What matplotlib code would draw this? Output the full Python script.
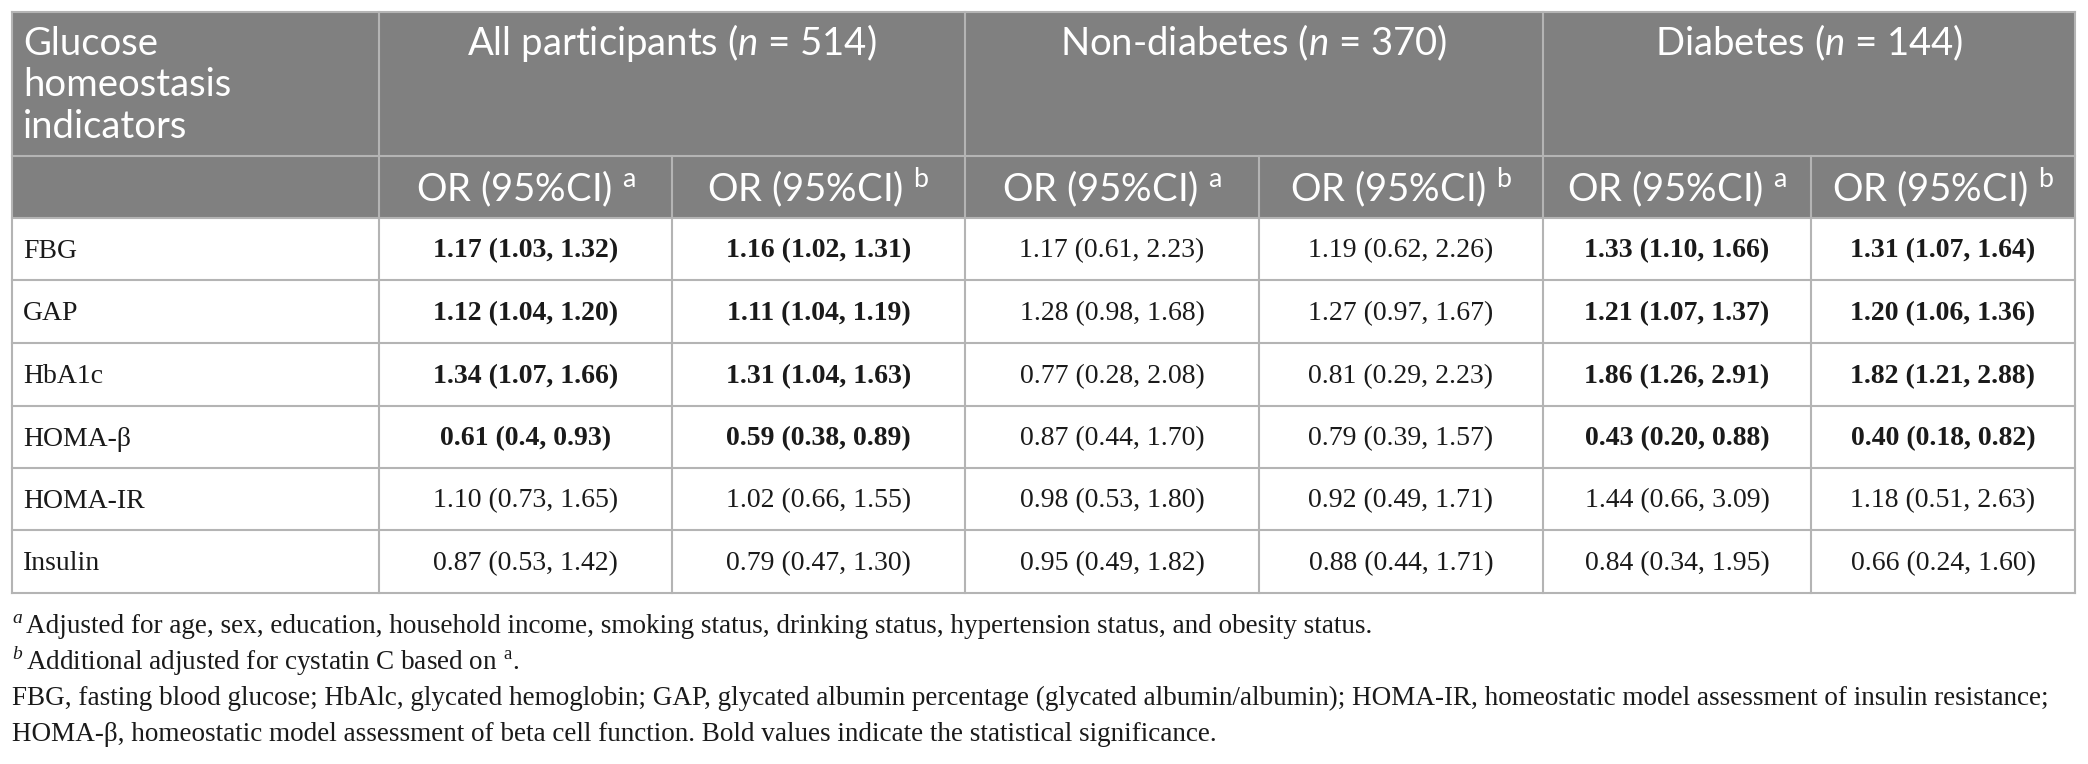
import matplotlib
matplotlib.use("Agg")
import matplotlib.pyplot as plt
from matplotlib.patches import Rectangle

# table content
indicators = ["FBG", "GAP", "HbA1c", "HOMA-β", "HOMA-IR", "Insulin"]
groups = ["All participants", "Non-diabetes", "Diabetes"]
group_n = [514, 370, 144]
sub_marks = ["a", "b", "a", "b", "a", "b"]

all_a = ["1.17 (1.03, 1.32)", "1.12 (1.04, 1.20)", "1.34 (1.07, 1.66)",
         "0.61 (0.4, 0.93)", "1.10 (0.73, 1.65)", "0.87 (0.53, 1.42)"]
all_b = ["1.16 (1.02, 1.31)", "1.11 (1.04, 1.19)", "1.31 (1.04, 1.63)",
         "0.59 (0.38, 0.89)", "1.02 (0.66, 1.55)", "0.79 (0.47, 1.30)"]
nondm_a = ["1.17 (0.61, 2.23)", "1.28 (0.98, 1.68)", "0.77 (0.28, 2.08)",
           "0.87 (0.44, 1.70)", "0.98 (0.53, 1.80)", "0.95 (0.49, 1.82)"]
nondm_b = ["1.19 (0.62, 2.26)", "1.27 (0.97, 1.67)", "0.81 (0.29, 2.23)",
           "0.79 (0.39, 1.57)", "0.92 (0.49, 1.71)", "0.88 (0.44, 1.71)"]
dm_a = ["1.33 (1.10, 1.66)", "1.21 (1.07, 1.37)", "1.86 (1.26, 2.91)",
        "0.43 (0.20, 0.88)", "1.44 (0.66, 3.09)", "0.84 (0.34, 1.95)"]
dm_b = ["1.31 (1.07, 1.64)", "1.20 (1.06, 1.36)", "1.82 (1.21, 2.88)",
        "0.40 (0.18, 0.82)", "1.18 (0.51, 2.63)", "0.66 (0.24, 1.60)"]

# significant (bold) cells
sig_all = [True, True, True, True, False, False]
sig_nondm = [False, False, False, False, False, False]
sig_dm = [True, True, True, True, False, False]

columns = [all_a, all_b, nondm_a, nondm_b, dm_a, dm_b]
col_sig = [sig_all, sig_all, sig_nondm, sig_nondm, sig_dm, sig_dm]

footnotes = [
    ("a", "Adjusted for age, sex, education, household income, smoking status, drinking status, hypertension status, and obesity status."),
    ("b", "Additional adjusted for cystatin C based on $^{\\mathregular{a}}$."),
    ("", "FBG, fasting blood glucose; HbAlc, glycated hemoglobin; GAP, glycated albumin percentage (glycated albumin/albumin); HOMA-IR, homeostatic model assessment of insulin resistance;"),
    ("", "HOMA-β, homeostatic model assessment of beta cell function. Bold values indicate the statistical significance."),
]

# layout in pixels
W, H = 2088, 764
col_edges = [12, 379, 672, 965, 1259, 1543, 1811, 2075]
row_edges = [12, 156, 218, 280, 343, 406, 468, 530, 593]
head_fill = "#808080"
grid_col = "#b4b4b4"
lw = 1.5

plt.rcParams["mathtext.fontset"] = "custom"
plt.rcParams["mathtext.rm"] = "Lato"
plt.rcParams["mathtext.it"] = "Lato:italic"

fig = plt.figure(figsize=(W / 100, H / 100), dpi=100)
ax = fig.add_axes([0, 0, 1, 1])
ax.set_xlim(0, W)
ax.set_ylim(H, 0)
ax.axis("off")

# header background
ax.add_patch(Rectangle((col_edges[0], row_edges[0]), col_edges[-1] - col_edges[0],
                       row_edges[2] - row_edges[0], facecolor=head_fill, edgecolor="none"))

# horizontal rules
for y in row_edges:
    ax.plot([col_edges[0], col_edges[-1]], [y, y], color=grid_col, lw=lw, solid_capstyle="projecting")
# vertical rules
for i, x in enumerate(col_edges):
    top = row_edges[0] if i in (0, 1, 3, 5, 7) else row_edges[1]
    ax.plot([x, x], [top, row_edges[-1]], color=grid_col, lw=lw, solid_capstyle="projecting")

head_font = dict(family="Lato", fontsize=27.5, color="white")
# first header cell
for k, line in enumerate(["Glucose", "homeostasis", "indicators"]):
    ax.text(23, 55 + k * 41.5, line, ha="left", va="baseline", **head_font)

for g in range(3):
    xc = (col_edges[1 + 2 * g] + col_edges[3 + 2 * g]) / 2
    ax.text(xc, 55, f"{groups[g]} ($\\it{{n}}$ = {group_n[g]})", ha="center", va="baseline", **head_font)

for j in range(6):
    xc = (col_edges[1 + j] + col_edges[2 + j]) / 2
    ax.text(xc, 201, f"OR (95%CI) $^{{\\mathregular{{{sub_marks[j]}}}}}$", ha="center", va="baseline", **head_font)

# body
for r, name in enumerate(indicators):
    yc = (row_edges[2 + r] + row_edges[3 + r]) / 2 + 2
    ax.text(23, yc, name, ha="left", va="center", family="Liberation Serif", fontsize=20, color="#1a1a1a")
    for j in range(6):
        xc = (col_edges[1 + j] + col_edges[2 + j]) / 2
        ax.text(xc, yc, columns[j][r], ha="center", va="center", family="Liberation Serif",
                fontsize=20, color="#1a1a1a", fontweight="bold" if col_sig[j][r] else "normal")

# footnotes
foot_y = [633, 669, 705, 741]
for (mark, txt), y in zip(footnotes, foot_y):
    x0 = 12
    if mark:
        ax.text(x0, y - 10, mark, ha="left", va="baseline", family="Liberation Serif",
                style="italic", fontsize=14, color="#1a1a1a")
        x0 = 26
    ax.text(x0, y, txt, ha="left", va="baseline", family="Liberation Serif",
            fontsize=19.5, color="#1a1a1a")

fig.savefig("out.png", dpi=100)
